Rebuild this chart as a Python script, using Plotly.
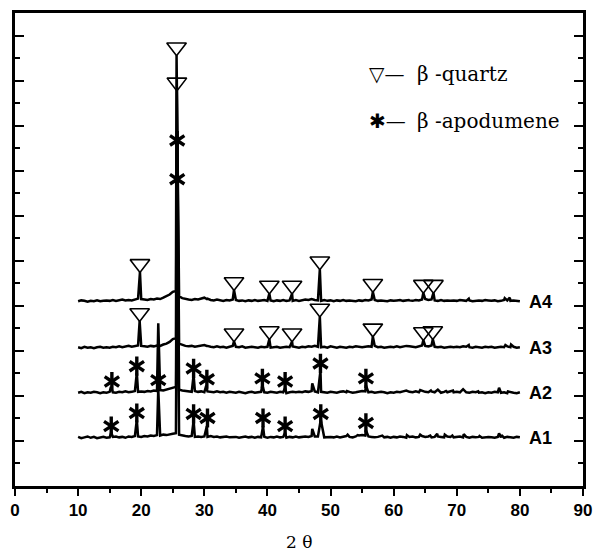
import plotly.graph_objects as go

# Scan positions (2-theta, degrees)
two_theta = [
    10.0, 10.5, 11.0, 11.5, 12.0, 12.5, 13.0, 13.5, 14.0, 14.5,
    15.0, 15.5, 16.0, 16.5, 17.0, 17.5, 18.0, 18.5, 19.0, 19.5,
    20.0, 20.5, 21.0, 21.5, 22.0, 22.5, 23.0, 23.5, 24.0, 24.5,
    25.0, 25.5, 26.0, 26.5, 27.0, 27.5, 28.0, 28.5, 29.0, 29.5,
    30.0, 30.5, 31.0, 31.5, 32.0, 32.5, 33.0, 33.5, 34.0, 34.5,
    35.0, 35.5, 36.0, 36.5, 37.0, 37.5, 38.0, 38.5, 39.0, 39.5,
    40.0, 40.5, 41.0, 41.5, 42.0, 42.5, 43.0, 43.5, 44.0, 44.5,
    45.0, 45.5, 46.0, 46.5, 47.0, 47.5, 48.0, 48.5, 49.0, 49.5,
    50.0, 50.5, 51.0, 51.5, 52.0, 52.5, 53.0, 53.5, 54.0, 54.5,
    55.0, 55.5, 56.0, 56.5, 57.0, 57.5, 58.0, 58.5, 59.0, 59.5,
    60.0, 60.5, 61.0, 61.5, 62.0, 62.5, 63.0, 63.5, 64.0, 64.5,
    65.0, 65.5, 66.0, 66.5, 67.0, 67.5, 68.0, 68.5, 69.0, 69.5,
    70.0, 70.5, 71.0, 71.5, 72.0, 72.5, 73.0, 73.5, 74.0, 74.5,
    75.0, 75.5, 76.0, 76.5, 77.0, 77.5, 78.0, 78.5, 79.0, 79.5,
    80.0,
]

# Background intensity of each sample (relative units)
bg_A1 = [
    0.02, -0.01, 0.01, 0.03, 0.00, 0.02, -0.01, 0.01, 0.02, 0.00,
    0.01, 0.02, 0.03, 0.01, 0.02, 0.00, 0.03, 0.02, 0.04, 0.03,
    0.02, 0.04, 0.03, 0.05, 0.04, 0.06, 0.05, 0.07, 0.06, 0.08,
    0.09, 0.10, 0.07, 0.05, 0.04, 0.03, 0.04, 0.02, 0.03, 0.02,
    0.03, 0.02, 0.04, 0.02, 0.03, 0.01, 0.02, 0.03, 0.01, 0.02,
    0.02, 0.00, 0.02, 0.03, 0.01, 0.02, 0.00, 0.02, 0.01, 0.02,
    0.00, 0.02, 0.01, 0.03, 0.01, 0.02, 0.00, 0.02, 0.01, 0.03,
    0.01, 0.02, 0.03, 0.02, 0.04, 0.03, 0.03, 0.02, 0.01, 0.02,
    0.02, 0.01, 0.03, 0.01, 0.02, 0.04, 0.02, 0.01, 0.03, 0.05,
    0.06, 0.05, 0.03, 0.02, 0.01, 0.02, 0.03, 0.01, 0.02, 0.00,
    0.02, 0.01, 0.03, 0.02, 0.00, 0.02, 0.03, 0.01, 0.02, 0.04,
    0.02, 0.03, 0.01, 0.02, 0.03, 0.02, 0.01, 0.03, 0.02, 0.01,
    0.02, 0.03, 0.01, 0.02, 0.00, 0.02, 0.01, 0.02, 0.00, 0.01,
    0.02, 0.01, 0.00, 0.02, 0.01, 0.00, 0.02, 0.01, 0.00, 0.02,
    0.01,
]
bg_A2 = [
    0.01, 0.03, 0.00, 0.02, 0.01, 0.03, 0.02, 0.00, 0.02, 0.01,
    0.03, 0.02, 0.01, 0.03, 0.02, 0.04, 0.02, 0.03, 0.05, 0.03,
    0.04, 0.03, 0.05, 0.04, 0.06, 0.05, 0.07, 0.06, 0.08, 0.10,
    0.12, 0.14, 0.08, 0.06, 0.05, 0.04, 0.03, 0.05, 0.03, 0.04,
    0.02, 0.04, 0.03, 0.02, 0.04, 0.02, 0.03, 0.01, 0.03, 0.02,
    0.01, 0.03, 0.02, 0.00, 0.02, 0.03, 0.01, 0.02, 0.03, 0.02,
    0.01, 0.03, 0.02, 0.01, 0.03, 0.02, 0.00, 0.02, 0.03, 0.02,
    0.03, 0.02, 0.04, 0.03, 0.05, 0.04, 0.02, 0.03, 0.02, 0.01,
    0.03, 0.02, 0.01, 0.03, 0.04, 0.02, 0.03, 0.01, 0.02, 0.04,
    0.05, 0.04, 0.02, 0.03, 0.01, 0.02, 0.03, 0.02, 0.00, 0.02,
    0.01, 0.03, 0.02, 0.04, 0.01, 0.03, 0.02, 0.04, 0.02, 0.05,
    0.03, 0.02, 0.04, 0.02, 0.03, 0.01, 0.03, 0.02, 0.04, 0.02,
    0.03, 0.02, 0.04, 0.02, 0.01, 0.03, 0.02, 0.01, 0.02, 0.00,
    0.02, 0.01, 0.03, 0.02, 0.01, 0.02, 0.00, 0.02, 0.01, 0.00,
    0.02,
]
bg_A3 = [
    0.02, 0.00, 0.03, 0.01, 0.02, 0.00, 0.02, 0.03, 0.01, 0.02,
    0.01, 0.03, 0.02, 0.04, 0.02, 0.03, 0.05, 0.03, 0.04, 0.06,
    0.05, 0.04, 0.03, 0.05, 0.04, 0.06, 0.05, 0.08, 0.10, 0.14,
    0.20, 0.22, 0.10, 0.07, 0.05, 0.04, 0.05, 0.03, 0.04, 0.05,
    0.07, 0.05, 0.03, 0.02, 0.04, 0.02, 0.03, 0.01, 0.03, 0.05,
    0.03, 0.02, 0.04, 0.01, 0.02, 0.03, 0.02, 0.01, 0.03, 0.02,
    0.03, 0.01, 0.02, 0.03, 0.01, 0.02, 0.03, 0.02, 0.04, 0.02,
    0.01, 0.03, 0.02, 0.04, 0.03, 0.05, 0.03, 0.02, 0.03, 0.01,
    0.04, 0.02, 0.01, 0.03, 0.02, 0.01, 0.03, 0.02, 0.04, 0.03,
    0.02, 0.03, 0.04, 0.03, 0.05, 0.02, 0.03, 0.01, 0.02, 0.03,
    0.02, 0.04, 0.02, 0.03, 0.05, 0.04, 0.03, 0.02, 0.04, 0.06,
    0.05, 0.04, 0.06, 0.03, 0.02, 0.03, 0.01, 0.02, 0.03, 0.02,
    0.03, 0.02, 0.04, 0.03, 0.02, 0.01, 0.03, 0.02, 0.01, 0.03,
    0.02, 0.03, 0.01, 0.02, 0.03, 0.02, 0.04, 0.02, 0.03, 0.01,
    0.02,
]
bg_A4 = [
    0.01, 0.03, 0.02, 0.00, 0.02, 0.01, 0.03, 0.01, 0.02, 0.03,
    0.02, 0.04, 0.02, 0.03, 0.05, 0.03, 0.04, 0.03, 0.05, 0.07,
    0.06, 0.05, 0.04, 0.06, 0.05, 0.07, 0.06, 0.09, 0.12, 0.16,
    0.22, 0.24, 0.12, 0.08, 0.06, 0.05, 0.04, 0.06, 0.05, 0.07,
    0.09, 0.07, 0.04, 0.03, 0.05, 0.03, 0.02, 0.04, 0.03, 0.05,
    0.04, 0.02, 0.03, 0.01, 0.03, 0.02, 0.04, 0.02, 0.03, 0.04,
    0.02, 0.03, 0.01, 0.03, 0.02, 0.04, 0.02, 0.03, 0.02, 0.04,
    0.02, 0.03, 0.05, 0.04, 0.06, 0.04, 0.03, 0.02, 0.04, 0.02,
    0.03, 0.01, 0.03, 0.02, 0.04, 0.02, 0.03, 0.02, 0.01, 0.03,
    0.02, 0.04, 0.03, 0.05, 0.04, 0.02, 0.03, 0.02, 0.01, 0.03,
    0.02, 0.03, 0.04, 0.02, 0.04, 0.03, 0.02, 0.04, 0.03, 0.05,
    0.06, 0.04, 0.05, 0.03, 0.02, 0.04, 0.02, 0.03, 0.02, 0.03,
    0.02, 0.04, 0.03, 0.02, 0.03, 0.01, 0.02, 0.03, 0.02, 0.04,
    0.03, 0.02, 0.03, 0.01, 0.02, 0.04, 0.03, 0.02, 0.03, 0.02,
    0.01,
]

# Diffraction peaks: position (2-theta) and peak-top intensity
pk_pos_A1 = [15.25, 19.3, 22.7, 25.7, 28.3, 30.4, 39.3, 42.8, 47.1, 48.45,
             52.7, 54.3, 55.6, 58.2, 62.1, 64.2, 65.8, 66.9, 68.1, 69.3,
             71.1, 73.6, 76.7, 77.1]
pk_int_A1 = [0.12, 0.40, 1.08, 5.55, 0.38, 0.26, 0.26, 0.11, 0.20, 0.40,
             0.07, 0.06, 0.17, 0.05, 0.06, 0.07, 0.05, 0.09, 0.07, 0.05,
             0.08, 0.04, 0.10, 0.06]
pk_pos_A2 = [15.2, 19.3, 22.7, 25.7, 28.3, 30.3, 39.2, 42.8, 47.1, 48.4,
             52.6, 55.6, 62.0, 64.2, 65.9, 67.0, 68.3, 69.4, 71.0, 73.4,
             76.7, 78.1]
pk_int_A2 = [0.14, 0.45, 1.55, 5.45, 0.40, 0.17, 0.18, 0.12, 0.22, 0.50,
             0.05, 0.18, 0.06, 0.07, 0.06, 0.08, 0.05, 0.06, 0.09, 0.04,
             0.12, 0.04]
pk_pos_A3 = [19.75, 25.65, 30.4, 34.7, 40.3, 43.9, 48.3, 56.7, 62.9, 64.7,
             66.2, 71.9, 77.7, 78.6]
pk_int_A3 = [0.60, 5.72, 0.05, 0.15, 0.20, 0.15, 0.70, 0.26, 0.04, 0.18,
             0.20, 0.07, 0.07, 0.08]
pk_pos_A4 = [19.8, 25.6, 30.4, 34.7, 40.3, 43.9, 48.3, 56.7, 62.4, 64.7,
             66.3, 71.9, 77.6, 78.4]
pk_int_A4 = [0.66, 5.47, 0.06, 0.26, 0.18, 0.18, 0.72, 0.22, 0.04, 0.20,
             0.20, 0.07, 0.08, 0.09]

# Vertical stacking of the four patterns
sample_names = ["A1", "A2", "A3", "A4"]
stack_offset = [1.07, 2.06, 3.06, 4.09]

# Phase markers (position, height above each pattern's baseline)
quartz_pos_A3 = [19.75, 25.65, 34.7, 40.3, 43.9, 48.3, 56.7, 64.7, 66.2]
quartz_h_A3 = [0.78, 5.90, 0.33, 0.38, 0.33, 0.88, 0.44, 0.36, 0.38]
quartz_pos_A4 = [19.8, 25.6, 34.7, 40.3, 43.9, 48.3, 56.7, 64.7, 66.3]
quartz_h_A4 = [0.84, 5.65, 0.44, 0.36, 0.36, 0.90, 0.40, 0.38, 0.38]
spod_pos_A1 = [15.25, 19.3, 25.7, 28.3, 30.5, 39.3, 42.8, 48.45, 55.6]
spod_h_A1 = [0.26, 0.55, 5.74, 0.53, 0.44, 0.44, 0.26, 0.53, 0.33]
spod_pos_A2 = [15.35, 19.3, 22.7, 25.7, 28.3, 30.4, 39.2, 42.8, 48.4, 55.6]
spod_h_A2 = [0.26, 0.60, 0.29, 5.61, 0.55, 0.31, 0.33, 0.26, 0.66, 0.33]

backgrounds = [bg_A1, bg_A2, bg_A3, bg_A4]
peak_pos = [pk_pos_A1, pk_pos_A2, pk_pos_A3, pk_pos_A4]
peak_int = [pk_int_A1, pk_int_A2, pk_int_A3, pk_int_A4]


def merge_pattern(bg, pos, inten):
    """Combine background samples with peak tops, ordered by angle."""
    pts = [(x, y) for x, y in zip(two_theta, bg)
           if all(abs(x - p) > 0.05 for p in pos)]
    pts += list(zip(pos, inten))
    pts.sort()
    return [p[0] for p in pts], [p[1] for p in pts]


fig = go.Figure()

for name, off, bg, pos, inten in zip(sample_names, stack_offset,
                                     backgrounds, peak_pos, peak_int):
    xs, ys = merge_pattern(bg, pos, inten)
    fig.add_trace(go.Scatter(
        x=xs, y=[v + off for v in ys], mode="lines",
        line=dict(color="black", width=2.5), name=name, hoverinfo="skip"))

# β-quartz markers (open down-triangles)
for pos, h, off in [(quartz_pos_A3, quartz_h_A3, stack_offset[2]),
                    (quartz_pos_A4, quartz_h_A4, stack_offset[3])]:
    fig.add_trace(go.Scatter(
        x=pos, y=[v + off for v in h], mode="markers",
        marker=dict(symbol="triangle-down-open", size=17,
                    color="black", line=dict(color="black", width=1.6))))

# β-spodumene markers (six-armed asterisks)
for pos, h, off in [(spod_pos_A1, spod_h_A1, stack_offset[0]),
                    (spod_pos_A2, spod_h_A2, stack_offset[1])]:
    for sym in ("y-up-open", "y-down-open"):
        fig.add_trace(go.Scatter(
            x=pos, y=[v + off for v in h], mode="markers",
            marker=dict(symbol=sym, size=12, color="black",
                        line=dict(color="black", width=3.4))))

# Sample labels at the right end of each pattern
for name, off in zip(sample_names, stack_offset):
    fig.add_annotation(x=two_theta[-1], y=off, text=name, showarrow=False,
                       xanchor="left", yanchor="middle", xshift=7,
                       font=dict(family="Liberation Sans", size=18,
                                 color="black", weight="bold"))

# Phase key
key_font = dict(family="DejaVu Serif, DejaVu Sans", size=20, color="black")
fig.add_annotation(x=55.8, y=9.15, text="▽—", showarrow=False,
                   xanchor="left", yanchor="middle", font=key_font)
fig.add_annotation(x=63.4, y=9.15, text="β -quartz", showarrow=False,
                   xanchor="left", yanchor="middle", font=key_font)
fig.add_annotation(x=55.8, y=8.11, text="✱—", showarrow=False,
                   xanchor="left", yanchor="middle", font=key_font)
fig.add_annotation(x=63.4, y=8.11, text="β -apodumene", showarrow=False,
                   xanchor="left", yanchor="middle", font=key_font)

# Axis title
fig.add_annotation(x=0.5, y=-0.118, xref="paper", yref="paper",
                   text="2 θ", showarrow=False, xanchor="center",
                   yanchor="middle",
                   font=dict(family="DejaVu Serif", size=17, color="black"))

tick_style = dict(tickcolor="black", tickwidth=2)

fig.update_layout(
    width=602, height=554,
    margin=dict(l=12, r=10, t=10, b=68),
    plot_bgcolor="white", paper_bgcolor="white",
    showlegend=False,
    xaxis=dict(range=[0, 90], tick0=0, dtick=10, ticks="outside", ticklen=7,
               showline=True, linewidth=2.5, linecolor="black", mirror=True,
               showgrid=False, zeroline=False,
               tickfont=dict(family="Liberation Sans", size=17,
                             color="black", weight="bold"),
               minor=dict(dtick=5, ticks="outside", ticklen=4,
                          showgrid=False, **tick_style),
               **tick_style),
    xaxis2=dict(overlaying="x", side="top", range=[0, 90], tick0=0, dtick=10,
                ticks="inside", ticklen=8, showticklabels=False,
                showgrid=False, zeroline=False, showline=False,
                minor=dict(dtick=5, ticks="inside", ticklen=5,
                           showgrid=False, **tick_style),
                **tick_style),
    yaxis=dict(range=[0, 10.5], tick0=0, dtick=1, ticks="inside", ticklen=9,
               showticklabels=False, showline=True, linewidth=2.5,
               linecolor="black", mirror="ticks", showgrid=False,
               zeroline=False,
               minor=dict(dtick=0.5, ticks="inside", ticklen=5,
                          showgrid=False, **tick_style),
               **tick_style),
)

fig.write_html("out.html")
